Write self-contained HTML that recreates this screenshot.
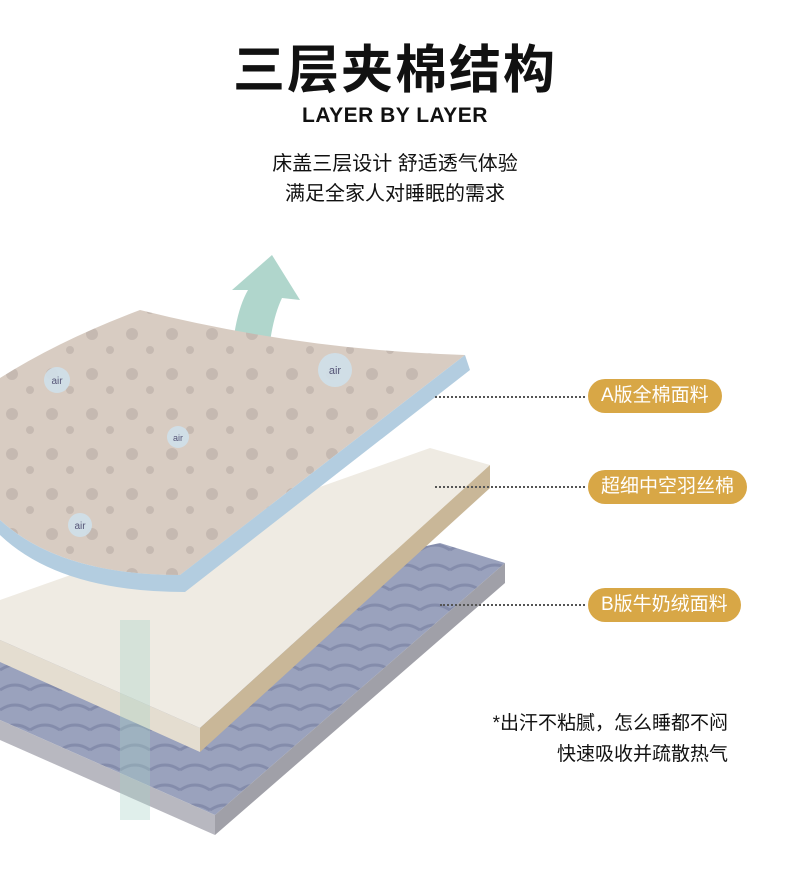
<!DOCTYPE html>
<html><head><meta charset="utf-8"><style>
body{margin:0;width:790px;height:890px;background:#fff;overflow:hidden;position:relative;font-family:"Liberation Sans","Noto Sans CJK SC",sans-serif;color:#111}
.t{position:absolute;left:0;width:790px;text-align:center}
.pill{position:absolute;background:#d8a746;color:#fff;border-radius:17px;font-size:19px;height:34px;line-height:34px;padding:0 13px}
.dot{position:absolute;border-top:2px dotted #555;height:0}
.r{position:absolute;right:62px;font-size:19px;text-align:right}
</style></head><body>
<div class="t" style="top:28px;font-size:52px;font-weight:bold;letter-spacing:2px">三层夹棉结构</div>
<div class="t" style="top:104px;font-size:21px;font-weight:bold;letter-spacing:0.5px">LAYER BY LAYER</div>
<div class="t" style="top:147px;font-size:20px">床盖三层设计 舒适透气体验</div>
<div class="t" style="top:177px;font-size:20px">满足全家人对睡眠的需求</div>
<svg width="790" height="890" style="position:absolute;left:0;top:0">
<defs><pattern id="p" width="40" height="40" patternUnits="userSpaceOnUse"><rect width="40" height="40" fill="#d8ccc2"/><circle cx="12" cy="14" r="6" fill="#8a8080" opacity=".25"/><circle cx="30" cy="30" r="4" fill="#7a7070" opacity=".2"/></pattern>
<pattern id="c" width="30" height="20" patternUnits="userSpaceOnUse"><rect width="30" height="20" fill="#9aa2bd"/><path d="M0 10 Q15 0 30 10" stroke="#848cab" stroke-width="3" fill="none"/></pattern></defs>
<polygon points="0,640 440,543 505,563 215,815 0,720" fill="url(#c)"/>
<polygon points="215,815 505,563 505,583 215,835" fill="#a0a0a8"/>
<polygon points="0,720 215,815 215,835 0,740" fill="#b8b8c0"/>
<polygon points="0,600 430,448 490,465 200,728 0,640" fill="#efebe3"/>
<polygon points="200,728 490,465 490,488 200,752" fill="#c9b798"/>
<polygon points="0,640 200,728 200,752 0,662" fill="#e4ddd0"/>
<path d="M232,440 Q225,330 248,290 L232,290 L272,255 L300,300 L282,298 Q262,340 268,440 Z" fill="#a7d2c6" opacity=".9"/>
<path d="M120,620 L150,620 L150,820 L120,820 Z" fill="#a7d2c6" opacity=".35"/>
<path d="M0,378 Q60,340 140,310 Q300,350 465,355 L180,575 Q60,575 0,520 Z" fill="url(#p)"/>
<path d="M465,355 L470,370 L185,592 Q60,592 0,535 L0,520 Q60,575 180,575 Z" fill="#b3cde0"/>
<circle cx="57" cy="380" r="13" fill="#cfe0ea" opacity=".9"/>
<circle cx="335" cy="370" r="17" fill="#cfe0ea" opacity=".9"/>
<circle cx="178" cy="437" r="11" fill="#cfe0ea" opacity=".9"/>
<circle cx="80" cy="525" r="12" fill="#cfe0ea" opacity=".9"/>
<text x="57" y="384" font-size="10" text-anchor="middle" fill="#557" font-family="Liberation Sans">air</text>
<text x="335" y="374" font-size="11" text-anchor="middle" fill="#557" font-family="Liberation Sans">air</text>
<text x="178" y="441" font-size="9" text-anchor="middle" fill="#557" font-family="Liberation Sans">air</text>
<text x="80" y="529" font-size="10" text-anchor="middle" fill="#557" font-family="Liberation Sans">air</text>
</svg>
<div class="dot" style="left:435px;top:396px;width:150px"></div>
<div class="dot" style="left:435px;top:486px;width:150px"></div>
<div class="dot" style="left:440px;top:604px;width:145px"></div>
<div class="pill" style="left:588px;top:379px">A版全棉面料</div>
<div class="pill" style="left:588px;top:470px">超细中空羽丝棉</div>
<div class="pill" style="left:588px;top:588px">B版牛奶绒面料</div>
<div class="r" style="top:708px">*出汗不粘腻，怎么睡都不闷</div>
<div class="r" style="top:739px">快速吸收并疏散热气</div>
</body></html>
